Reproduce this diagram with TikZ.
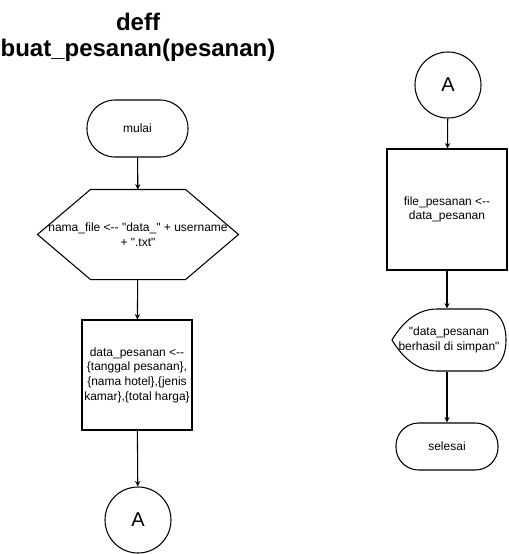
\documentclass[tikz,border=0pt]{standalone}
\usepackage{fontspec}
\setmainfont{Liberation Sans}
\usepackage{tikz}
\usetikzlibrary{shapes,arrows,positioning,calc}
\newcommand{\qt}{\textquotedbl}

\begin{document}
\begin{tikzpicture}[x=0.75pt, y=-0.75pt, line width=0.8pt,
    every node/.style={font=\fontsize{9}{11}\selectfont, align=center},
    terminal/.style={draw, rounded corners=#1, inner sep=0pt},
    process/.style={draw, rectangle, inner sep=0pt},
    connector/.style={draw, circle, inner sep=0pt, minimum size=49.5pt, font=\fontsize{15}{18}\selectfont},
    flow/.style={-stealth}]
    \useasboundingbox (0,0) rectangle (508,554);

    % Title
    \node[font=\fontsize{18}{19.5}\selectfont\bfseries] (title) at (138,37) {deff\\buat\_pesanan(pesanan)};

    % Left column
    \node[terminal=21pt, minimum width=75.75pt, minimum height=42.75pt] (mulai) at (137.5,128.5) {mulai};
    \node[minimum width=150pt, minimum height=66.75pt, inner sep=0pt] (nama) at (138,234.5) {nama\_file <-{}- \qt data\_\qt\ + username\\+ \qt.txt\qt};
    \draw (nama.west) -- ([xshift=39.75pt]nama.north west) -- ([xshift=-39.75pt]nama.north east)
        -- (nama.east) -- ([xshift=-39.75pt]nama.south east) -- ([xshift=39.75pt]nama.south west) -- cycle;
    \node[process, minimum width=82.5pt, minimum height=82.5pt] (data) at (137,375) {data\_pesanan <-{}-\\\{tanggal pesanan\},\\\{nama hotel\},\{jenis\\kamar\},\{total harga\}};
    \node[connector] (akhirA) at (138,520) {A};

    % Right column
    \node[connector] (awalA) at (448,85) {A};
    \node[process, minimum width=90pt, minimum height=90.75pt] (file) at (447,209.5) {file\_pesanan <-{}-\\data\_pesanan};
    \node[minimum width=85.5pt, minimum height=46.5pt, inner sep=0pt] (tampil) at (449,340) {\qt data\_pesanan\\berhasil di simpan\qt};
    \draw (392,340) .. controls (404,320) and (419,309) .. (437,309) -- (482,309)
        .. controls (498,309) and (506,322) .. (506,340) .. controls (506,358) and (498,371) .. (482,371)
        -- (437,371) .. controls (419,371) and (404,360) .. (392,340) -- cycle;
    \node[terminal=17pt, minimum width=76.5pt, minimum height=35.25pt] (selesai) at (447,446.5) {selesai};

    % Arrows
    \draw[flow] (mulai) -- (nama);
    \draw[flow] (nama) -- (data);
    \draw[flow] (data) -- (akhirA);
    \draw[flow] (awalA) -- (file);
    \draw[flow] (file) -- (file |- tampil.north);
    \draw[flow] (file |- tampil.south) -- (selesai);
\end{tikzpicture}
\end{document}
